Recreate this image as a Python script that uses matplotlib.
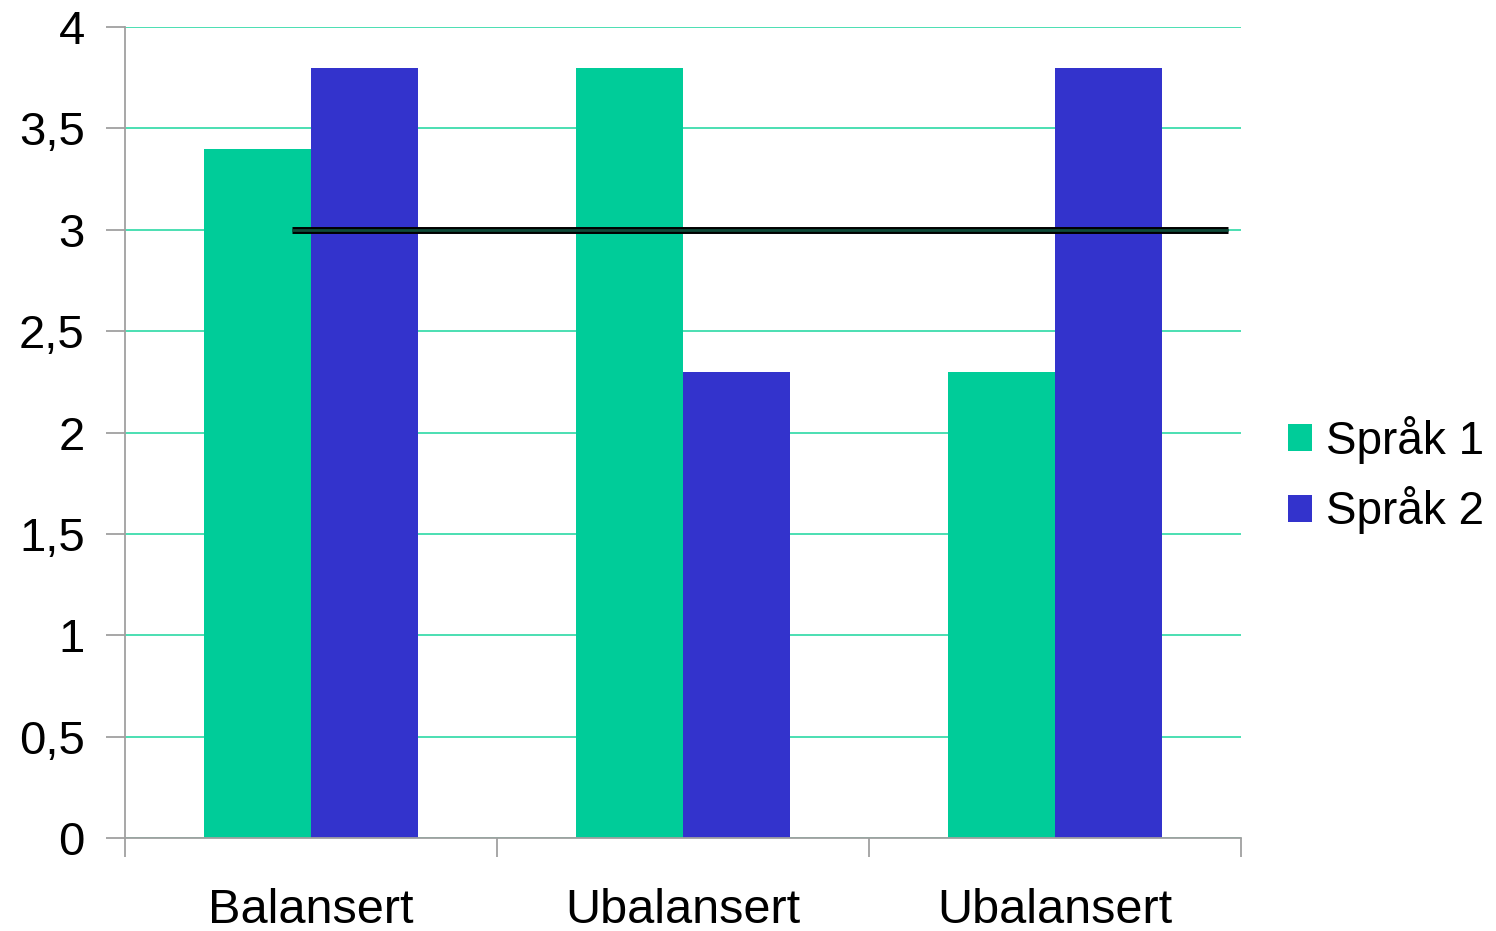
import numpy as np
import matplotlib
matplotlib.use('Agg')

import matplotlib.pyplot as plt
from matplotlib.patches import Patch
from matplotlib.ticker import FuncFormatter, MultipleLocator

categories = ['Balansert', 'Ubalansert', 'Ubalansert']
sprak1 = [3.4, 3.8, 2.3]
sprak2 = [3.8, 2.3, 3.8]
series_names = ['Språk 1', 'Språk 2']

ref_level = 3
ref_span = (-0.05, 2.465)

GREEN = '#00CC99'
BLUE = '#3333CC'
GRID = '#3DDCAC'
AXIS = '#A0A0A0'

plt.rcParams['font.family'] = ['Liberation Sans', 'DejaVu Sans']

fig = plt.figure(figsize=(14.96, 9.31), dpi=100)
ax = fig.add_axes([125 / 1496, 1 - 838 / 931, (1241 - 125) / 1496, (838 - 27) / 931])

x = np.arange(len(categories))
w = 0.287
ax.bar(x - w / 2, sprak1, w, color=GREEN, zorder=2)
ax.bar(x + w / 2, sprak2, w, color=BLUE, zorder=2)

# reference level line: black outline with dark fill
ax.plot(ref_span, [ref_level, ref_level], color='black', lw=5, zorder=3,
        solid_capstyle='butt')
ax.plot(ref_span, [ref_level, ref_level], color='#0E4A38', lw=2, zorder=4,
        solid_capstyle='butt')

ax.set_xlim(-0.5, 2.5)
ax.set_ylim(0, 4)
ax.yaxis.set_major_locator(MultipleLocator(0.5))
ax.yaxis.set_major_formatter(FuncFormatter(lambda v, p: ('%g' % v).replace('.', ',')))
ax.grid(axis='y', color=GRID, lw=1.3, zorder=1)

# category ticks sit on the group boundaries, labels in the middle
ax.set_xticks([-0.5, 0.5, 1.5, 2.5])
ax.set_xticklabels([])
ax.set_xticks(x, minor=True)
ax.set_xticklabels(categories, minor=True)
ax.tick_params(axis='x', which='major', length=14, width=1.3, color=AXIS, direction='out')
ax.tick_params(axis='x', which='minor', length=0, pad=36, labelsize=35)
ax.tick_params(axis='y', length=14, width=1.3, color=AXIS, pad=15, labelsize=34)

for side in ['top', 'right']:
    ax.spines[side].set_visible(False)
for side in ['left', 'bottom']:
    ax.spines[side].set_color(AXIS)
    ax.spines[side].set_linewidth(1.3)

handles = [Patch(facecolor=GREEN), Patch(facecolor=BLUE)]
fig.legend(handles, series_names, loc='center left',
           bbox_to_anchor=(1288 / 1496, 1 - 475 / 931), frameon=False,
           fontsize=33, handlelength=0.52, handleheight=0.52,
           handletextpad=0.3, labelspacing=0.5, borderpad=0, borderaxespad=0)

fig.savefig('out.png', dpi=100)
